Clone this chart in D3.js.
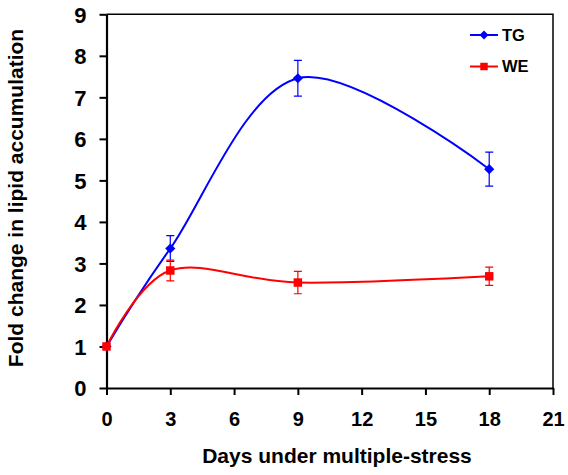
<!DOCTYPE html>
<html><head><meta charset="utf-8">
<script src="https://cdn.jsdelivr.net/npm/d3@7"></script>
<style>body{margin:0;background:#fff}svg{display:block}text{font-family:Arial,"Liberation Sans",sans-serif;font-weight:bold}</style>
</head><body>
<script>
const days = [0, 3, 9, 18];
const tgValues = [1.0, 3.36, 7.46, 5.27];
const tgErrors = [0.0, 0.31, 0.43, 0.41];
const weValues = [1.0, 2.83, 2.54, 2.69];
const weErrors = [0.0, 0.25, 0.27, 0.22];
const xTicks = [0, 3, 6, 9, 12, 15, 18, 21];
const yTicks = [0, 1, 2, 3, 4, 5, 6, 7, 8, 9];
const seriesNames = ["TG", "WE"];
const seriesColors = ["#0000ff", "#ff0000"];
const xTitle = "Days under multiple-stress";
const yTitle = "Fold change in lipid accumulation";

const W = 568, H = 475;
const m = {left: 106.5, right: 15, top: 14.3, bottom: 87};
const svg = d3.select("body").append("svg").attr("width", W).attr("height", H);
const x = d3.scaleLinear().domain([0, 21]).range([m.left, W - m.right]);
const y = d3.scaleLinear().domain([0, 9]).range([H - m.bottom, m.top]);

// frame (top and right)
svg.append("path")
  .attr("d", `M${x(0)},${y(9)}H${x(21)}V${y(0)}`)
  .attr("fill", "none").attr("stroke", "#000").attr("stroke-width", 1.5);

const xa = svg.append("g").attr("transform", `translate(0,${y(0)})`)
  .call(d3.axisBottom(x).tickValues(xTicks).tickSize(7).tickPadding(17).tickSizeOuter(0));
const ya = svg.append("g").attr("transform", `translate(${x(0)},0)`)
  .call(d3.axisLeft(y).tickValues(yTicks).tickSize(7).tickPadding(13).tickSizeOuter(0));
[xa, ya].forEach(a => {
  a.select(".domain").attr("stroke-width", 2.2);
  a.selectAll(".tick line").attr("stroke-width", 2);
  a.selectAll("text").attr("fill", "#000")
    .style("font-family", "Arial, 'Liberation Sans', sans-serif").style("font-weight", "bold");
});
xa.selectAll("text").attr("font-size", 20);
ya.selectAll("text").attr("font-size", 22).attr("dy", "0.36em");

svg.append("text").attr("x", 337).attr("y", 463)
  .attr("text-anchor", "middle").attr("font-size", 21).text(xTitle);
svg.append("text").attr("transform", `translate(23,198) rotate(-90)`)
  .attr("text-anchor", "middle").attr("font-size", 21).text(yTitle);

const series = [
  {name: seriesNames[0], vals: tgValues, errs: tgErrors, color: seriesColors[0], diamond: true},
  {name: seriesNames[1], vals: weValues, errs: weErrors, color: seriesColors[1], diamond: false}
];
const line = d3.line().x(d => x(d[0])).y(d => y(d[1])).curve(d3.curveCardinal.tension(0));

series.forEach(s => {
  const pts = days.map((d, i) => [d, s.vals[i], s.errs[i]]);
  const g = svg.append("g");
  pts.filter(p => p[2] > 0).forEach(p => {
    g.append("path")
      .attr("d", `M${x(p[0])},${y(p[1] + p[2])}V${y(p[1] - p[2])}M${x(p[0]) - 4},${y(p[1] + p[2])}h8M${x(p[0]) - 4},${y(p[1] - p[2])}h8`)
      .attr("stroke", s.color).attr("stroke-width", 1.2).attr("fill", "none");
  });
  g.append("path").datum(pts).attr("d", line)
    .attr("fill", "none").attr("stroke", s.color).attr("stroke-width", 2);
  g.selectAll(".m").data(pts).enter().append("path")
    .attr("transform", p => `translate(${x(p[0])},${y(p[1])}) rotate(${s.diamond ? 45 : 0})`)
    .attr("d", d3.symbol().type(d3.symbolSquare).size(s.diamond ? 52 : 72))
    .attr("fill", s.color);
});

series.forEach((s, i) => {
  const ly = 35 + i * 31.5;
  const g = svg.append("g");
  g.append("line").attr("x1", 470).attr("x2", 498).attr("y1", ly).attr("y2", ly)
    .attr("stroke", s.color).attr("stroke-width", 2);
  g.append("path").attr("transform", `translate(484,${ly}) rotate(${s.diamond ? 45 : 0})`)
    .attr("d", d3.symbol().type(d3.symbolSquare).size(s.diamond ? 40 : 56)).attr("fill", s.color);
  g.append("text").attr("x", 502).attr("y", ly).attr("dy", "0.36em").attr("font-size", 16.5).text(s.name);
});
</script>
</body></html>
